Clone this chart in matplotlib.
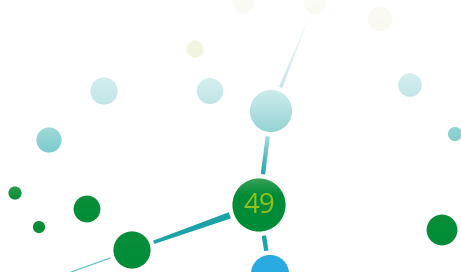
import numpy as np
import matplotlib.pyplot as plt
from matplotlib.patches import Circle, Polygon
from matplotlib.colors import to_rgb

# nodes (pixel layout of the network)
node_x = [243, 315, 380, 195, 104, 210, 271, 410, 49, 455, 15, 87, 39, 132, 259, 442, 270, 30]
node_y = [2, 3, 19, 49, 91, 91, 111, 85, 140, 134, 193, 209, 227, 250, 205, 230, 274, 287]
node_r = [12, 12, 13, 9.5, 14.5, 14, 22, 12.7, 13.5, 8, 7.5, 14.3, 7, 19.5, 27.5, 16.3, 20, 10]
node_top = ['#fcfcf6', '#fcfcf7', '#fbfbf4', '#f3f7e2', '#d6efef', '#d6efef', '#cfecec', '#d6efef',
            '#a2dada', '#95d4d5', '#2f9e50', '#0a8f3b', '#0a8f3b', '#0a8f3b', '#3da45c', '#078e39',
            '#29abe2', '#29abe2']
node_bot = ['#fafaf3', '#fafaf3', '#f9f9f1', '#f1f5df', '#c0e5e6', '#c0e5e6', '#94d3d4', '#c0e5e6',
            '#7bcacb', '#86cece', '#058c37', '#008c36', '#008c36', '#008c36', '#008c36', '#008c36',
            '#29abe2', '#29abe2']

# edges: (from, to, width at from, width at to, colour at from, colour at to)
edge_from = [1, 6, 14, 14, 13]
edge_to = [6, 14, 13, 16, 17]
edge_w0 = [0.4, 4.2, 6.5, 4.4, 1.2]
edge_w1 = [3.4, 4.4, 3.5, 4.4, 1.2]
edge_c0 = ['#f8fcfc', '#a5dada', '#1aa2a8', '#1aa2a8', '#5cc0c4']
edge_c1 = ['#c6e7e8', '#1ea4a9', '#1ea4a9', '#1ea4a9', '#5cc0c4']

label_node = 14
label_text = '49'


def grad_fill(ax, patch, bbox, p0, p1, c0, c1, z):
    x0, x1, y0, y1 = bbox
    n = 80
    gx, gy = np.meshgrid(np.linspace(x0, x1, n), np.linspace(y0, y1, n))
    d = np.array(p1) - np.array(p0)
    t = ((gx - p0[0]) * d[0] + (gy - p0[1]) * d[1]) / (d @ d)
    t = np.clip(t, 0, 1)[..., None]
    img = np.array(to_rgb(c0)) * (1 - t) + np.array(to_rgb(c1)) * t
    im = ax.imshow(img, extent=(x0, x1, y1, y0), origin='upper', aspect='auto',
                   interpolation='bilinear', zorder=z)
    ax.add_patch(patch)
    im.set_clip_path(patch)


fig = plt.figure(figsize=(4.61, 2.72), dpi=100)
ax = fig.add_axes([0, 0, 1, 1])
ax.axis('off')

gap = 3.5
for a, b, w0, w1, c0, c1 in zip(edge_from, edge_to, edge_w0, edge_w1, edge_c0, edge_c1):
    pa = np.array([node_x[a], node_y[a]], float)
    pb = np.array([node_x[b], node_y[b]], float)
    u = (pb - pa) / np.linalg.norm(pb - pa)
    s = pa + u * (node_r[a] + gap)
    e = pb - u * (node_r[b] + gap)
    nrm = np.array([-u[1], u[0]])
    pts = [s + nrm * w0 / 2, e + nrm * w1 / 2, e - nrm * w1 / 2, s - nrm * w0 / 2]
    poly = Polygon(pts, closed=True, fc='none', ec='none', zorder=1)
    xs = [p[0] for p in pts]
    ys = [p[1] for p in pts]
    grad_fill(ax, poly, (min(xs), max(xs), min(ys), max(ys)), s, e, c0, c1, 1)

for i, (x, y, r, ct, cb) in enumerate(zip(node_x, node_y, node_r, node_top, node_bot)):
    circ = Circle((x, y), r, fc='none', ec='white', lw=1.3, zorder=3)
    if i == label_node:
        # big node: gradient only on its upper part
        grad_fill(ax, circ, (x - r, x + r, y - r, y + r), (x, y - r), (x, y - r * 0.35), ct, cb, 2)
    else:
        grad_fill(ax, circ, (x - r, x + r, y - r, y + r), (x, y - r), (x, y + r), ct, cb, 2)

ax.text(node_x[label_node], node_y[label_node] + 1, label_text, ha='center', va='center',
        fontsize=20, color='#8dc21f', family='Open Sans', zorder=4)

ax.set_xlim(0, 461)
ax.set_ylim(272, 0)
fig.savefig('out.png', dpi=100)
